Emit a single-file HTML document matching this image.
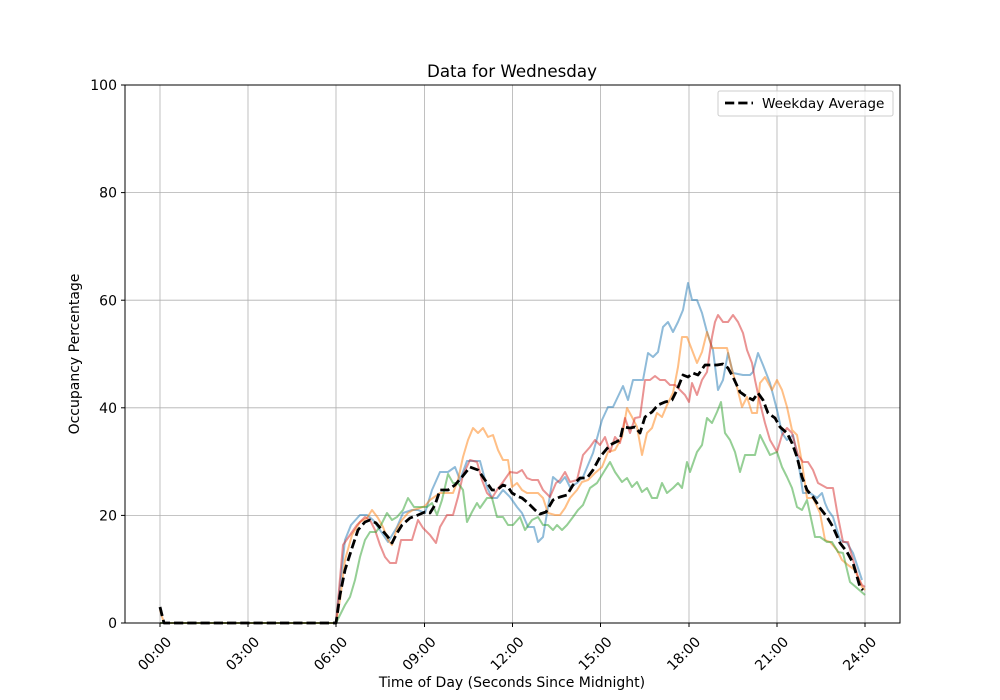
<!DOCTYPE html>
<html><head><meta charset="utf-8"><style>body{margin:0;background:#fff}svg{display:block}text{font-family:"DejaVu Sans","Liberation Sans",sans-serif;fill:#000}</style></head>
<body>
<svg width="1000" height="700" viewBox="0 0 1000 700" xmlns="http://www.w3.org/2000/svg">
<rect width="1000" height="700" fill="#fff"/>
<g stroke="#b0b0b0" stroke-width="0.8">
<line x1="160" y1="85" x2="160" y2="623"/><line x1="248" y1="85" x2="248" y2="623"/><line x1="336" y1="85" x2="336" y2="623"/><line x1="424.5" y1="85" x2="424.5" y2="623"/><line x1="512.5" y1="85" x2="512.5" y2="623"/><line x1="600.5" y1="85" x2="600.5" y2="623"/><line x1="689" y1="85" x2="689" y2="623"/><line x1="777" y1="85" x2="777" y2="623"/><line x1="865" y1="85" x2="865" y2="623"/>
<line x1="125" y1="515.4" x2="900" y2="515.4"/><line x1="125" y1="407.8" x2="900" y2="407.8"/><line x1="125" y1="300.2" x2="900" y2="300.2"/><line x1="125" y1="192.6" x2="900" y2="192.6"/>
</g>
<g fill="none" stroke-width="2" stroke-linejoin="round" stroke-opacity="0.5">
<polyline stroke="#1f77b4" points="160,623 336,623 345,540 351,525 360,515 367,515 373,520 380,530 388,542 397,527 403,513 412,510 418,510 425,513 432,490 440,472 448,472 455,467 460,480 467,461 473,461 480,461 487,487 492,498 497,498 503,490 510,497 517,507 522,513 528,527 534,527 538,542 543,537 548,507 553,477 560,483 565,477 570,487 577,483 583,477 593,453 602,420 608,407 613,407 623,386 628,400 633,380 643,380 648,353 653,357 658,352 663,327 668,322 673,332 678,322 683,310 688,283 692,300 697,300 702,313 707,332 713,350 718,390 723,380 728,353 733,373 743,375 750,375 753,372 758,353 763,365 770,383 777,410 782,433 787,440 793,435 798,460 803,493 810,493 817,498 822,493 825,503 828,510 833,517 840,540 847,543 853,553 862,580"/>
<polyline stroke="#ff7f0e" points="160,610 164,623 336,623 340,600 345,560 352,535 360,522 367,518 372,510 378,518 383,527 388,540 392,545 397,528 402,520 408,513 413,510 420,508 425,506 430,500 440,493 453,493 458,480 463,457 468,440 473,428 478,433 483,428 488,437 493,435 498,450 503,460 508,460 512,487 517,483 522,490 527,493 533,493 538,493 543,498 548,513 555,515 560,515 565,508 570,498 577,490 582,482 588,480 595,473 602,467 608,452 615,450 622,437 627,408 632,417 637,427 642,455 647,433 652,428 657,413 662,417 667,405 673,393 678,367 682,337 687,337 692,350 697,363 702,352 707,332 712,348 717,348 727,348 732,370 737,387 742,407 747,397 752,413 757,413 760,383 765,377 772,390 777,380 782,390 787,407 792,430 797,435 802,463 807,498 813,498 820,513 825,540 830,542 837,550 842,560 848,565 855,570 862,587 865,590"/>
<polyline stroke="#d62728" points="160,623 336,623 343,545 350,535 357,525 365,517 370,520 375,530 380,545 385,557 390,563 396,563 401,540 406,540 412,540 418,520 423,528 430,535 436,543 440,527 447,515 453,515 458,497 463,475 470,460 477,462 482,480 487,493 492,498 497,490 503,482 510,472 517,473 522,470 527,478 532,480 538,480 543,490 550,497 556,483 560,480 565,472 570,482 577,480 583,455 590,447 595,440 600,445 605,437 610,452 615,437 620,443 625,418 630,433 635,418 640,417 645,380 650,380 655,376 660,380 665,380 670,385 675,385 680,390 685,395 689,402 692,383 697,395 702,380 707,372 712,337 715,322 718,315 723,322 728,322 733,315 738,322 743,333 747,350 752,363 755,380 760,403 765,423 770,440 777,452 782,435 787,428 792,433 798,455 803,462 808,462 813,470 818,483 827,488 833,488 838,517 843,542 848,542 853,560 858,577 862,585 865,587"/>
<polyline stroke="#2ca02c" points="160,623 336,623 345,605 350,597 355,580 360,557 365,540 370,532 376,532 381,525 387,513 392,520 397,517 403,510 408,498 414,507 420,507 427,507 432,503 437,515 442,500 448,474 453,483 458,483 463,490 467,522 472,512 477,503 480,508 487,498 492,498 497,517 503,517 508,525 513,525 520,517 525,530 532,520 538,517 543,525 548,525 553,530 557,525 562,530 567,525 573,517 578,510 583,505 590,488 597,483 605,470 610,462 615,472 622,482 627,478 632,487 637,482 642,492 647,488 652,498 657,498 662,483 667,493 673,488 678,483 682,488 687,462 690,472 697,452 702,445 707,418 712,423 717,412 721,402 725,433 730,440 735,452 740,472 745,455 750,455 755,455 760,435 765,445 770,455 777,452 782,467 787,477 792,488 797,507 802,510 807,500 812,523 815,537 820,537 827,542 832,542 838,552 843,553 850,582 857,588 865,595"/>
</g>
<polyline fill="none" stroke="#000" stroke-width="2.8" stroke-dasharray="9.25,4" stroke-linejoin="round" points="160,607 164,623 336,623 340,595 345,570 352,548 358,530 365,522 370,520 376,523 382,530 388,537 392,543 397,533 402,525 410,518 418,515 425,512 430,513 435,505 440,490 448,490 455,485 462,477 470,467 478,470 485,480 492,490 497,490 503,485 508,487 512,493 517,496 522,498 528,503 535,510 540,514 546,512 553,500 560,497 567,495 573,485 580,478 587,478 593,470 600,457 610,445 620,440 623,427 630,428 635,427 640,433 645,417 652,412 658,405 665,402 672,400 677,390 683,375 688,377 693,373 698,375 705,365 710,365 717,365 723,364 728,368 733,377 740,392 747,397 753,400 758,393 763,400 768,413 775,418 780,427 787,433 792,443 797,457 802,477 807,490 813,497 820,508 827,517 833,527 840,543 847,552 853,563 860,587 863,590"/>
<rect x="125" y="85" width="775" height="538" fill="none" stroke="#000" stroke-width="1"/>
<g stroke="#000" stroke-width="1">
<line x1="160" y1="623" x2="160" y2="627"/><line x1="248" y1="623" x2="248" y2="627"/><line x1="336" y1="623" x2="336" y2="627"/><line x1="424.5" y1="623" x2="424.5" y2="627"/><line x1="512.5" y1="623" x2="512.5" y2="627"/><line x1="600.5" y1="623" x2="600.5" y2="627"/><line x1="689" y1="623" x2="689" y2="627"/><line x1="777" y1="623" x2="777" y2="627"/><line x1="865" y1="623" x2="865" y2="627"/>
<line x1="121" y1="623" x2="125" y2="623"/><line x1="121" y1="515.4" x2="125" y2="515.4"/><line x1="121" y1="407.8" x2="125" y2="407.8"/><line x1="121" y1="300.2" x2="125" y2="300.2"/><line x1="121" y1="192.6" x2="125" y2="192.6"/><line x1="121" y1="85" x2="125" y2="85"/>
</g>
<g font-size="14" text-anchor="end">
<text x="117" y="628">0</text><text x="117" y="520.5">20</text><text x="117" y="413">40</text><text x="117" y="305.5">60</text><text x="117" y="197.5">80</text><text x="117" y="90">100</text>
</g>
<g font-size="14" text-anchor="middle">
<text transform="translate(158,657) rotate(-45)">00:00</text>
<text transform="translate(246,657) rotate(-45)">03:00</text>
<text transform="translate(334,657) rotate(-45)">06:00</text>
<text transform="translate(422.5,657) rotate(-45)">09:00</text>
<text transform="translate(510.5,657) rotate(-45)">12:00</text>
<text transform="translate(598.5,657) rotate(-45)">15:00</text>
<text transform="translate(687,657) rotate(-45)">18:00</text>
<text transform="translate(775,657) rotate(-45)">21:00</text>
<text transform="translate(863,657) rotate(-45)">24:00</text>
</g>
<text x="512" y="687" font-size="14" text-anchor="middle">Time of Day (Seconds Since Midnight)</text>
<text transform="translate(79,354) rotate(-90)" font-size="14" text-anchor="middle">Occupancy Percentage</text>
<text x="512" y="77" font-size="16.7" text-anchor="middle">Data for Wednesday</text>
<rect x="718" y="91" width="175" height="25" rx="2" fill="#fff" fill-opacity="0.8" stroke="#ccc" stroke-width="1"/>
<line x1="725" y1="103" x2="753" y2="103" stroke="#000" stroke-width="2.8" stroke-dasharray="9.25,4"/>
<text x="762" y="108" font-size="13.6">Weekday Average</text>
</svg>
</body></html>
